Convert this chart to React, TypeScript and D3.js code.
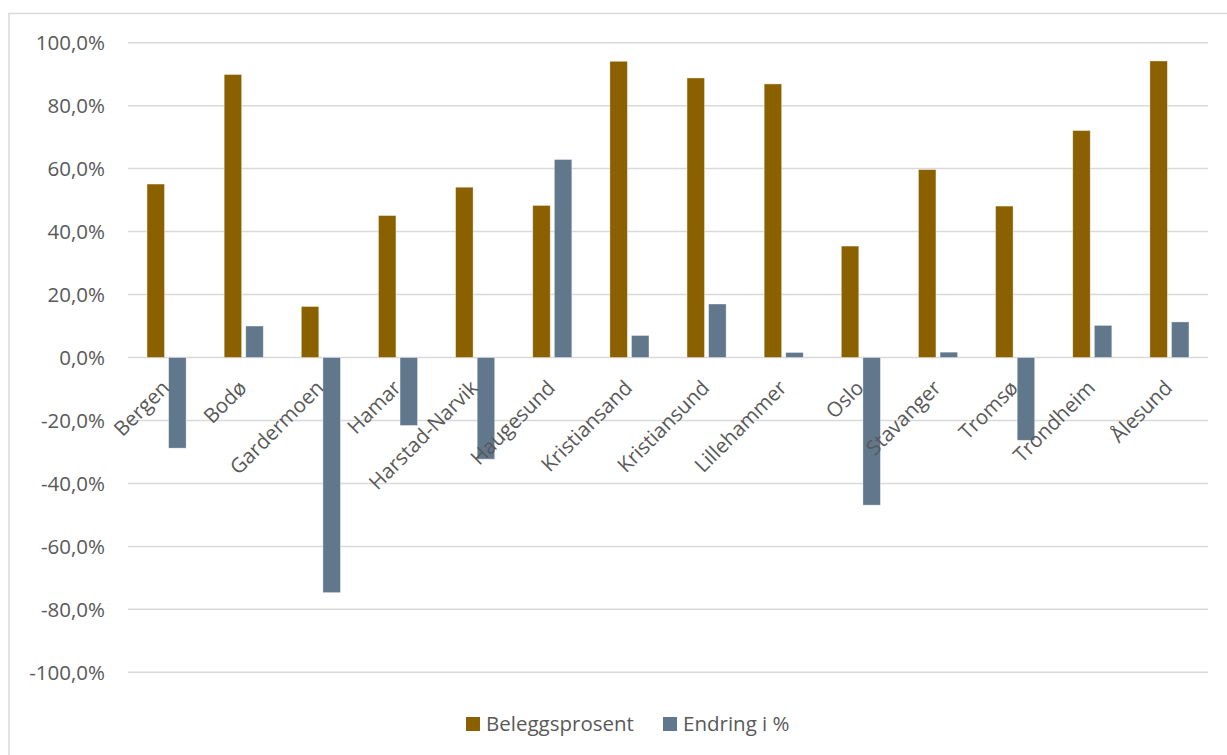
import React from "react";
import * as d3 from "d3";

const categories = [
  "Bergen", "Bodø", "Gardermoen", "Hamar", "Harstad-Narvik", "Haugesund", "Kristiansand",
  "Kristiansund", "Lillehammer", "Oslo", "Stavanger", "Tromsø", "Trondheim", "Ålesund",
];
const beleggsprosent = [55.1, 89.9, 16.2, 45.1, 54.1, 48.3, 94.1, 88.8, 86.9, 35.4, 59.7, 48.1, 72.1, 94.2];
const endring = [-28.8, 10.0, -74.7, -21.6, -32.3, 62.9, 7.0, 17.0, 1.6, -46.9, 1.7, -26.3, 10.2, 11.3];
const yTicks = [100, 80, 60, 40, 20, 0, -20, -40, -60, -80, -100];
const seriesNames = ["Beleggsprosent", "Endring i %"];
const colors = ["#8B6100", "#61778C"];

const W = 1227;
const H = 755;
const FONT = "'Open Sans', sans-serif";
const TEXT = "#595959";
const FS = 20.5;

export default function App() {
  const x = d3.scaleBand<string>().domain(categories).range([128, 1208]).paddingInner(0).paddingOuter(0);
  const y = d3.scaleLinear().domain([-100, 100]).range([672.3, 42.7]);
  const barW = 17.5;
  const off = 10.8;
  const fmt = (v: number) => d3.format(".1f")(v).replace(".", ",").replace("−", "-") + "%";
  const series = [beleggsprosent, endring];

  return (
    <svg width={W} height={H} style={{ position: "absolute", left: 0, top: 0, background: "#fff" }}>
      <rect x={9} y={13.5} width={W + 20} height={H + 20} fill="#fff" stroke="#D9D9D9" strokeWidth={1.5} />
      {yTicks.map((t) => (
        <g key={t}>
          <line x1={128} x2={1208} y1={y(t)} y2={y(t)} stroke="#D9D9D9" strokeWidth={1.5} />
          <text x={105} y={y(t)} dy="0.36em" textAnchor="end" fontFamily={FONT} fontSize={FS} fill={TEXT}>
            {fmt(t)}
          </text>
        </g>
      ))}
      {series.map((vals, si) =>
        vals.map((v, i) => {
          const cx = (x(categories[i]) as number) + x.bandwidth() / 2;
          const bx = cx + (si === 0 ? -off : off) - barW / 2;
          const y0 = y(0);
          const y1 = y(v);
          return (
            <rect
              key={si + "-" + i}
              x={bx}
              y={Math.min(y0, y1)}
              width={barW}
              height={Math.abs(y1 - y0)}
              fill={colors[si]}
              stroke="#ffffff"
              strokeOpacity={0.5}
              strokeWidth={0.75}
            />
          );
        })
      )}
      {categories.map((c) => {
        const cx = (x(c) as number) + x.bandwidth() / 2;
        return (
          <text
            key={c}
            transform={`translate(${cx - 6},${379}) rotate(-45)`}
            textAnchor="end"
            dy="0.7em"
            fontFamily={FONT}
            fontSize={FS}
            fill={TEXT}
          >
            {c}
          </text>
        );
      })}
      <g>
        <rect x={466} y={717} width={14} height={14} fill={colors[0]} />
        <text x={486} y={724} dy="0.36em" fontFamily={FONT} fontSize={FS} fill={TEXT}>
          {seriesNames[0]}
        </text>
        <rect x={663} y={717} width={14} height={14} fill={colors[1]} />
        <text x={683} y={724} dy="0.36em" fontFamily={FONT} fontSize={FS} fill={TEXT}>
          {seriesNames[1]}
        </text>
      </g>
    </svg>
  );
}
